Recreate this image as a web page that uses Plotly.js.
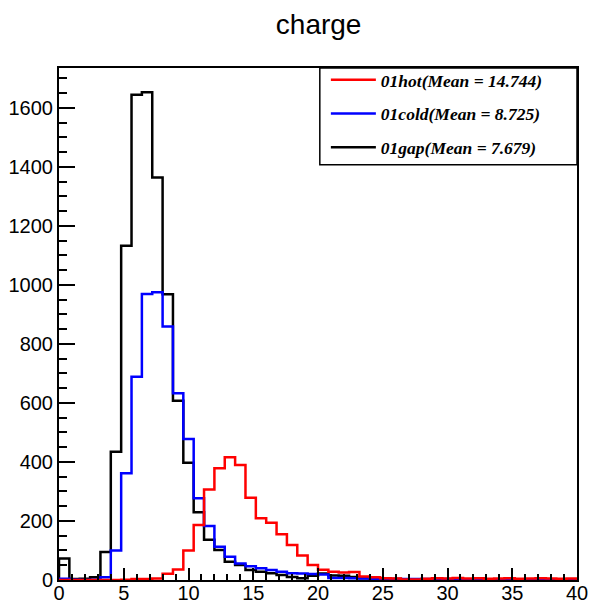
<!DOCTYPE html>
<html>
<head>
<meta charset="utf-8">
<script src="https://cdn.plot.ly/plotly-3.0.1.min.js"></script>
<style>
html, body { margin: 0; padding: 0; background: #fff; }
#chart { width: 589px; height: 606px; }
</style>
</head>
<body>
<div id="chart"></div>
<script>
// Histogram binning: 50 bins from 0 to 40
const binLow = 0;
const binHigh = 40;
const nBins = 50;

// Series names (legend labels)
const nameHot = "01hot(Mean = 14.744)";
const nameCold = "01cold(Mean = 8.725)";
const nameGap = "01gap(Mean = 7.679)";

// Bin contents
const hotCounts = [
  0, 0, 0, 0, 0, 0, 1, 3, 3, 5,
  21, 36, 100, 186, 307, 379, 416, 390, 279, 209,
  194, 155, 119, 83, 51, 35, 28, 25, 27, 12,
  9, 6, 5, 2, 2, 4, 6, 5, 7, 5,
  6, 4, 5, 6, 4, 5, 6, 5, 4, 5
];
const coldCounts = [
  4, 1, 0, 1, 9, 100, 362, 689, 969, 975,
  859, 633, 478, 277, 183, 113, 79, 56, 47, 40,
  34, 28, 23, 22, 20, 19, 7, 7, 6, 5,
  4, 4, 3, 3, 3, 3, 2, 3, 3, 2,
  3, 2, 2, 3, 2, 2, 2, 2, 2, 2
];
const gapCounts = [
  73, 3, 4, 9, 95, 435, 1133, 1644, 1653, 1364,
  968, 607, 397, 230, 136, 102, 62, 51, 34, 28,
  23, 17, 10, 6, 14, 22, 15, 14, 10, 6,
  4, 3, 3, 2, 2, 2, 2, 2, 1, 1,
  1, 1, 1, 1, 1, 1, 1, 1, 1, 1
];

// Axis ticks
const xTickVals = [0, 5, 10, 15, 20, 25, 30, 35, 40];
const yTickVals = [0, 200, 400, 600, 800, 1000, 1200, 1400, 1600];

function stepTrace(counts, name, color, rank) {
  const w = (binHigh - binLow) / nBins;
  const xs = [binLow];
  const ys = [0];
  for (let i = 0; i < counts.length; i++) {
    xs.push(binLow + i * w);
    ys.push(counts[i]);
  }
  xs.push(binHigh); ys.push(counts[counts.length - 1]);
  xs.push(binHigh); ys.push(0);
  return {
    type: 'scatter', mode: 'lines', x: xs, y: ys, name: name,
    legendgroup: name, legendrank: rank,
    line: { shape: 'hv', color: color, width: 2.5 },
    hoverinfo: 'skip'
  };
}

// drawn in this order (gap below, hot on top); legend ordered by rank
const traces = [
  stepTrace(gapCounts, nameGap, '#000000', 3),
  stepTrace(coldCounts, nameCold, '#0000ff', 2),
  stepTrace(hotCounts, nameHot, '#ff0000', 1)
];

const axisFont = { family: 'Liberation Sans, Arial, sans-serif', size: 20, color: '#000' };

const layout = {
  width: 589, height: 606,
  margin: { l: 59, r: 12, t: 68, b: 26, pad: 0 },
  paper_bgcolor: '#fff', plot_bgcolor: '#fff',
  title: {
    text: 'charge',
    font: { family: 'Liberation Sans, Arial, sans-serif', size: 28, color: '#000' },
    x: 0.541, xanchor: 'center', xref: 'container',
    y: 1 - 24 / 606, yanchor: 'middle', yref: 'container'
  },
  showlegend: true,
  legend: {
    x: 0.5152, xanchor: 'left', y: 1.012, yanchor: 'top',
    bgcolor: 'rgba(0,0,0,0)', borderwidth: 0,
    font: { family: 'Liberation Serif, Times New Roman, serif', size: 17.5, weight: 'bold', style: 'italic', color: '#000' },
    traceorder: 'grouped', tracegroupgap: 8,
    itemwidth: 45
  },
  shapes: [{
    type: 'rect', xref: 'paper', yref: 'paper', layer: 'above',
    x0: 0.5035, x1: 1, y0: 0.811, y1: 1,
    line: { color: '#000', width: 1.5 }, fillcolor: '#fff'
  }],
  xaxis: {
    range: [binLow, binHigh],
    tickvals: xTickVals, ticktext: xTickVals.map(String),
    ticks: 'inside', ticklen: 12, tickwidth: 2, tickcolor: '#000',
    minor: { ticks: 'inside', ticklen: 6, tickwidth: 2, tickcolor: '#000', dtick: 1 },
    showline: true, linecolor: '#000', linewidth: 2, mirror: true,
    showgrid: false, zeroline: false,
    ticklabelstandoff: -6,
    tickfont: axisFont
  },
  yaxis: {
    range: [0, 1735],
    tickvals: yTickVals, ticktext: yTickVals.map(String),
    ticks: 'inside', ticklen: 16, tickwidth: 2, tickcolor: '#000',
    minor: { ticks: 'inside', ticklen: 8, tickwidth: 2, tickcolor: '#000', dtick: 50 },
    showline: true, linecolor: '#000', linewidth: 2, mirror: true,
    showgrid: false, zeroline: false,
    tickfont: axisFont
  }
};

Plotly.newPlot('chart', traces, layout, { staticPlot: true, displayModeBar: false });
</script>
</body>
</html>
